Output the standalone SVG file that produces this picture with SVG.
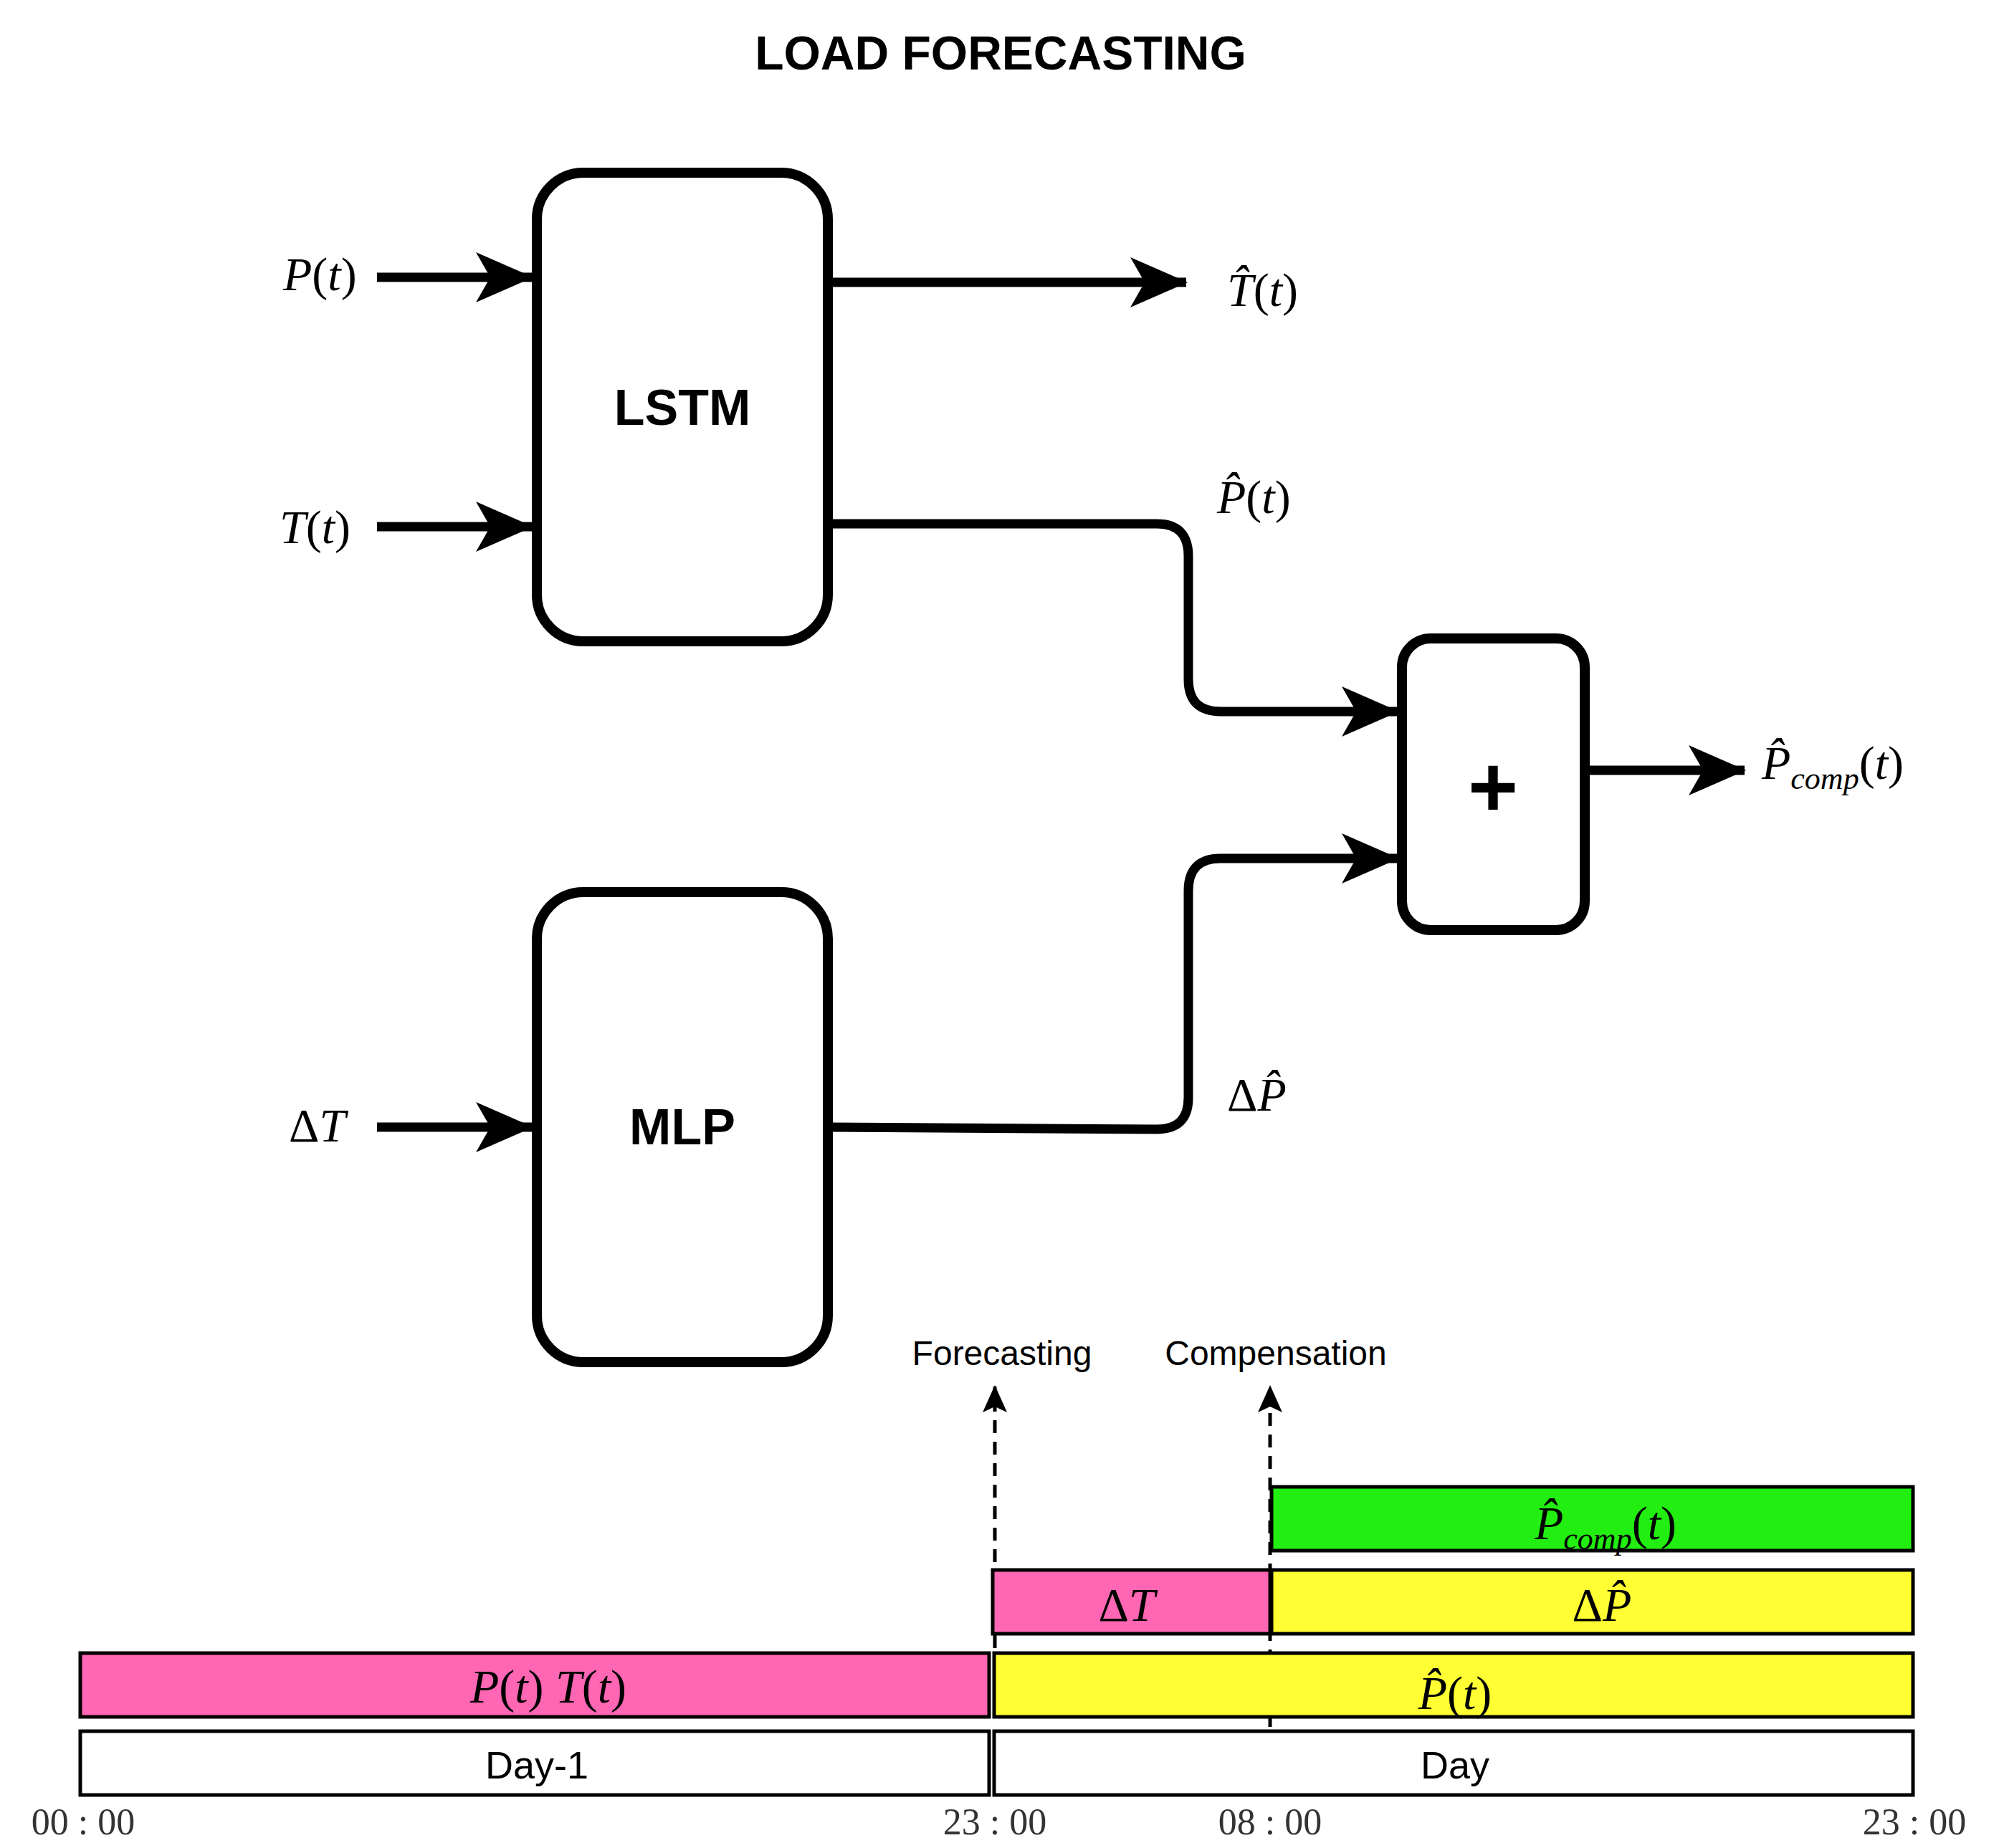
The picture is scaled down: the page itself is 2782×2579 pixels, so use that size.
<svg xmlns="http://www.w3.org/2000/svg" width="2782" height="2579" viewBox="0 0 2782 2579">
<style>
.box{fill:#fff;stroke:#000;stroke-width:14}
.wire{fill:none;stroke:#000;stroke-width:13}
.dash{fill:none;stroke:#000;stroke-width:5;stroke-dasharray:18 12}
.bar{stroke:#000;stroke-width:5}
.m{font-family:"Liberation Serif",serif;font-style:italic;font-size:66px;fill:#000}
.sub{font-size:44px}
.b{font-family:"Liberation Sans",Arial,sans-serif;font-weight:bold;fill:#000}
.s{font-family:"Liberation Sans",Arial,sans-serif;fill:#000}
.tm{font-family:"Liberation Serif",serif;font-size:52px;fill:#333}
</style>
<defs>
<marker id="ah" markerUnits="userSpaceOnUse" markerWidth="90" markerHeight="80" refX="78" refY="35" orient="auto" viewBox="0 0 90 80">
<path d="M0,0 L80,35 L0,70 L20,35 z" fill="#000"/>
</marker>
<marker id="sh" markerUnits="userSpaceOnUse" markerWidth="40" markerHeight="40" refX="36" refY="17" orient="auto" viewBox="0 0 40 40">
<path d="M0,0 L38,17 L0,34 L8,17 z" fill="#000"/>
</marker>
</defs>
<text class="b" x="1396" y="97" font-size="66" text-anchor="middle">LOAD FORECASTING</text>

<g id="connectors">
<path class="wire" marker-end="url(#ah)" d="M526,387 H742"/>
<path class="wire" marker-end="url(#ah)" d="M526,735 H742"/>
<path class="wire" marker-end="url(#ah)" d="M526,1573 H742"/>
<path class="wire" marker-end="url(#ah)" d="M1155,394 H1655"/>
<path class="wire" marker-end="url(#ah)" d="M1155,731 H1614 Q1658,731 1658,776 V948 Q1658,993 1703,993 H1950"/>
<path class="wire" marker-end="url(#ah)" d="M1155,1573 L1614,1576 Q1658,1576 1658,1532 V1243 Q1658,1198 1703,1198 H1950"/>
<path class="wire" marker-end="url(#ah)" d="M2211,1075 H2434"/>
<path class="dash" marker-end="url(#sh)" d="M1388,2300 V1935"/>
<path class="dash" marker-end="url(#sh)" d="M1772,2500 V1935"/>
</g>

<g id="lstm"><rect class="box" x="749" y="241" width="406" height="654" rx="65"/>
<text class="b" x="952" y="593" font-size="70" text-anchor="middle">LSTM</text></g>
<g id="mlp"><rect class="box" x="749" y="1245" width="406" height="656" rx="65"/>
<text class="b" x="952" y="1597" font-size="70" text-anchor="middle">MLP</text></g>
<g id="plus"><rect class="box" x="1956" y="891" width="255" height="407" rx="40"/>
<text class="b" x="2083" y="1140" font-size="120" text-anchor="middle">+</text></g>

<g id="labels">
<text class="m" x="395" y="405">P<tspan font-style="normal">(</tspan>t<tspan font-style="normal">)</tspan></text>
<text class="m" x="390" y="758">T<tspan font-style="normal">(</tspan>t<tspan font-style="normal">)</tspan></text>
<text class="m" x="403" y="1593"><tspan font-style="normal">Δ</tspan>T</text>
<text class="m" x="1712" y="427">T&#x302;<tspan font-style="normal">(</tspan>t<tspan font-style="normal">)</tspan></text>
<text class="m" x="1698" y="716">P&#x302;<tspan font-style="normal">(</tspan>t<tspan font-style="normal">)</tspan></text>
<text class="m" x="1712" y="1550"><tspan font-style="normal">Δ</tspan>P&#x302;</text>
<text class="m" x="2458" y="1087">P&#x302;<tspan class="sub" dy="14">comp</tspan><tspan dy="-14" font-style="normal">(</tspan>t<tspan font-style="normal">)</tspan></text>
</g>

<g id="timeline">
<rect class="bar" x="1774" y="2075" width="895" height="89" fill="#22ee11"/>
<rect class="bar" x="1385" y="2191" width="387" height="89" fill="#ff66b3"/>
<rect class="bar" x="1774" y="2191" width="895" height="89" fill="#ffff33"/>
<rect class="bar" x="112" y="2307" width="1268" height="89" fill="#ff66b3"/>
<rect class="bar" x="1387" y="2307" width="1282" height="89" fill="#ffff33"/>
<rect class="bar" x="112" y="2416" width="1268" height="89" fill="#fff"/>
<rect class="bar" x="1387" y="2416" width="1282" height="89" fill="#fff"/>
<text class="m" x="2240" y="2148" text-anchor="middle">P&#x302;<tspan class="sub" dy="14">comp</tspan><tspan dy="-14" font-style="normal">(</tspan>t<tspan font-style="normal">)</tspan></text>
<text class="m" x="1572" y="2262" text-anchor="middle"><tspan font-style="normal">Δ</tspan>T</text>
<text class="m" x="2235" y="2262" text-anchor="middle"><tspan font-style="normal">Δ</tspan>P&#x302;</text>
<text class="m" x="765" y="2376" text-anchor="middle">P<tspan font-style="normal">(</tspan>t<tspan font-style="normal">) </tspan>T<tspan font-style="normal">(</tspan>t<tspan font-style="normal">)</tspan></text>
<text class="m" x="2030" y="2385" text-anchor="middle">P&#x302;<tspan font-style="normal">(</tspan>t<tspan font-style="normal">)</tspan></text>
<text class="s" x="749" y="2482" font-size="54" text-anchor="middle">Day-1</text>
<text class="s" x="2030" y="2482" font-size="54" text-anchor="middle">Day</text>
<text class="s" x="1398" y="1905" font-size="48" text-anchor="middle">Forecasting</text>
<text class="s" x="1780" y="1905" font-size="48" text-anchor="middle">Compensation</text>
<text class="tm" x="116" y="2560" text-anchor="middle">00 : 00</text>
<text class="tm" x="1388" y="2560" text-anchor="middle">23 : 00</text>
<text class="tm" x="1772" y="2560" text-anchor="middle">08 : 00</text>
<text class="tm" x="2671" y="2560" text-anchor="middle">23 : 00</text>
</g>
</svg>
